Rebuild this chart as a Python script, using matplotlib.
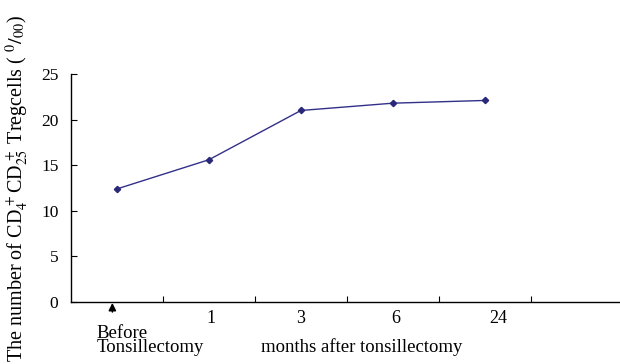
import matplotlib.pyplot as plt
import numpy as np

# data
months = ["1", "3", "6", "24"]
before_label = "Before\nTonsillectomy"
treg_counts = [12.4, 15.6, 21.0, 21.8, 22.1]

plt.rcParams["font.family"] = ["Liberation Serif", "DejaVu Serif"]
plt.rcParams["mathtext.fontset"] = "stix"

fig = plt.figure(figsize=(6.2, 3.64), dpi=100)
ax = fig.add_axes([0.1145, 0.1703, 0.8855, 0.6264])

x = np.arange(len(treg_counts))
ax.plot(
    x, treg_counts, color="#33308a", linewidth=1.0,
    marker="D", markersize=3.2, markerfacecolor="#2a2878",
    markeredgecolor="#2a2878"
)

ax.set_xlim(-0.5, 5.47)
ax.set_ylim(0, 25)
ax.set_yticks([0, 5, 10, 15, 20, 25])

# boundary ticks, category labels as minor ticks (24 sits a bit right)
label_shift = np.array([0.02, 0.0, 0.03, 0.15])
ax.set_xticks(np.arange(len(treg_counts)) + 0.5)
ax.set_xticklabels([])
ax.set_xticks(x[1:] + label_shift, minor=True)
ax.set_xticklabels(months, minor=True, fontsize=13)

ax.tick_params(axis="x", which="major", direction="in", length=4, width=0.8)
ax.tick_params(axis="x", which="minor", length=0, pad=6)
ax.tick_params(axis="y", direction="in", length=4, width=0.8,
               labelsize=12.5, pad=9)

for side in ["top", "right"]:
    ax.spines[side].set_visible(False)
for side in ["left", "bottom"]:
    ax.spines[side].set_linewidth(1.0)

ax.set_ylabel(
    r"The number of CD$_4^{\,+}$CD$_{25}^{\,+}$ Tregcells ( $^{0}/_{00}$)",
    fontsize=14.5, labelpad=7
)

# "before" label with arrow
ax.annotate(
    "", xy=(-0.05, -0.1), xytext=(-0.05, -1.1),
    xycoords="data", annotation_clip=False,
    arrowprops=dict(arrowstyle="-|>", color="black", lw=1.1,
                    mutation_scale=11, shrinkA=0, shrinkB=0)
)
ax.text(-0.22, -2.5, before_label, ha="left", va="top",
        fontsize=13.5, linespacing=0.8)
ax.text(2.66, -4.0, "months after tonsillectomy", ha="center", va="top",
        fontsize=13.5)

fig.savefig("out.png", dpi=100)
